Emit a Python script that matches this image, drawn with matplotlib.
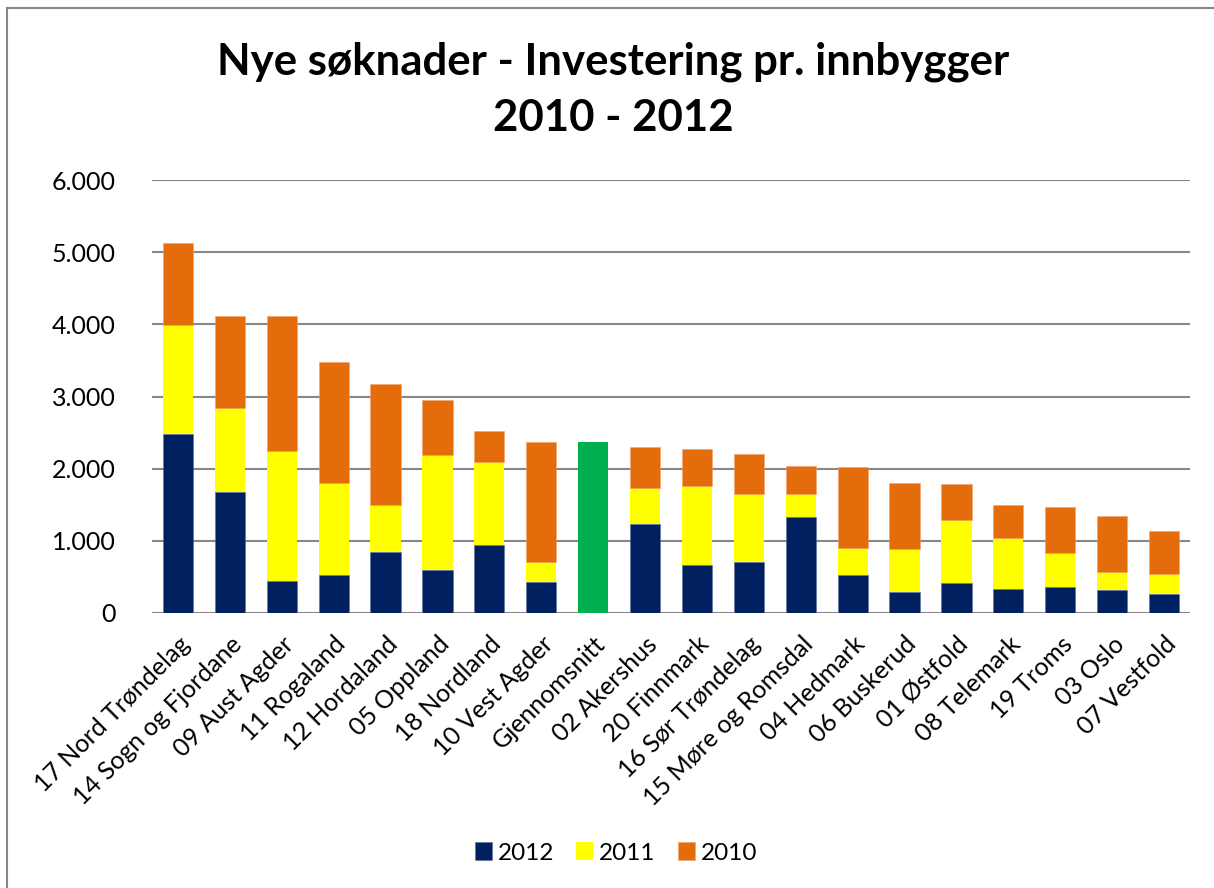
import matplotlib.pyplot as plt
from matplotlib.lines import Line2D
from matplotlib.ticker import FuncFormatter

plt.rcParams['font.family'] = ['Lato', 'DejaVu Sans']

fylker = ['17 Nord Trøndelag', '14 Sogn og Fjordane', '09 Aust Agder', '11 Rogaland',
          '12 Hordaland', '05 Oppland', '18 Nordland', '10 Vest Agder', 'Gjennomsnitt',
          '02 Akershus', '20 Finnmark', '16 Sør Trøndelag', '15 Møre og Romsdal',
          '04 Hedmark', '06 Buskerud', '01 Østfold', '08 Telemark', '19 Troms',
          '03 Oslo', '07 Vestfold']
v2012 = [2480, 1680, 440, 520, 850, 600, 940, 430, 0, 1230, 660, 700, 1330,
         520, 290, 415, 330, 355, 325, 270]
v2011 = [1515, 1165, 1800, 1285, 640, 1585, 1150, 270, 0, 500, 1095, 950, 320,
         385, 595, 870, 705, 470, 250, 275]
v2010 = [1135, 1270, 1870, 1675, 1680, 765, 430, 1675, 0, 575, 520, 550, 390,
         1120, 920, 505, 455, 645, 765, 590]
snitt = 2375
snitt_idx = fylker.index('Gjennomsnitt')

fig = plt.figure(figsize=(12.14, 8.88), dpi=100)
ax = fig.add_axes([152 / 1214, 1 - 613 / 888, (1190 - 152) / 1214, (613 - 180) / 888])

x = range(len(fylker))
w = 0.58
bottom2 = v2012
bottom3 = [a + b for a, b in zip(v2012, v2011)]
ax.bar(x, v2012, w, color='#002060', label='2012', edgecolor='#5a6e9a', linewidth=0.4, zorder=3)
ax.bar(x, v2011, w, bottom=bottom2, color='#FFFF00', label='2011', zorder=3)
ax.bar(x, v2010, w, bottom=bottom3, color='#E46C0A', label='2010', edgecolor='#f0a070', linewidth=0.4, zorder=3)
ax.bar([snitt_idx], [snitt], w, color='#00B050', zorder=3)

ax.set_xlim(-0.5, len(fylker) - 0.5)
ax.set_ylim(0, 6000)
ax.set_yticks(range(0, 6001, 1000))
ax.yaxis.set_major_formatter(FuncFormatter(lambda v, p: f'{int(v):,}'.replace(',', '.')))
ax.grid(axis='y', color='#888888', linewidth=1.5, zorder=0)
for s in ['top', 'right', 'left', 'bottom']:
    ax.spines[s].set_visible(False)
ax.tick_params(axis='both', length=0, labelsize=18, colors='black')
ax.tick_params(axis='y', pad=26)
ax.set_xticks(list(x))
ax.set_xticklabels(fylker, rotation=45, ha='right', va='top', rotation_mode='anchor')
ax.tick_params(axis='x', pad=14)

fig.text(0.505, 1 - 62 / 888, 'Nye søknader - Investering pr. innbygger', ha='center', va='center',
         fontsize=31.5, fontweight='bold')
fig.text(0.505, 1 - 118 / 888, '2010 - 2012', ha='center', va='center', fontsize=31.5, fontweight='bold')

handles, labels = ax.get_legend_handles_labels()
fig.legend(handles, labels, loc='center', bbox_to_anchor=(616 / 1214, 1 - 853 / 888), ncol=3,
           frameon=False, fontsize=17.5, handlelength=0.7, handleheight=0.7, handletextpad=0.25,
           columnspacing=0.9)

fig.add_artist(Line2D([7 / 1214, 7 / 1214], [0, 1 - 8 / 888], color='#888888', lw=1.5))
fig.add_artist(Line2D([7 / 1214, 1], [1 - 8 / 888, 1 - 8 / 888], color='#888888', lw=1.5))

fig.savefig('out.png', dpi=100)
